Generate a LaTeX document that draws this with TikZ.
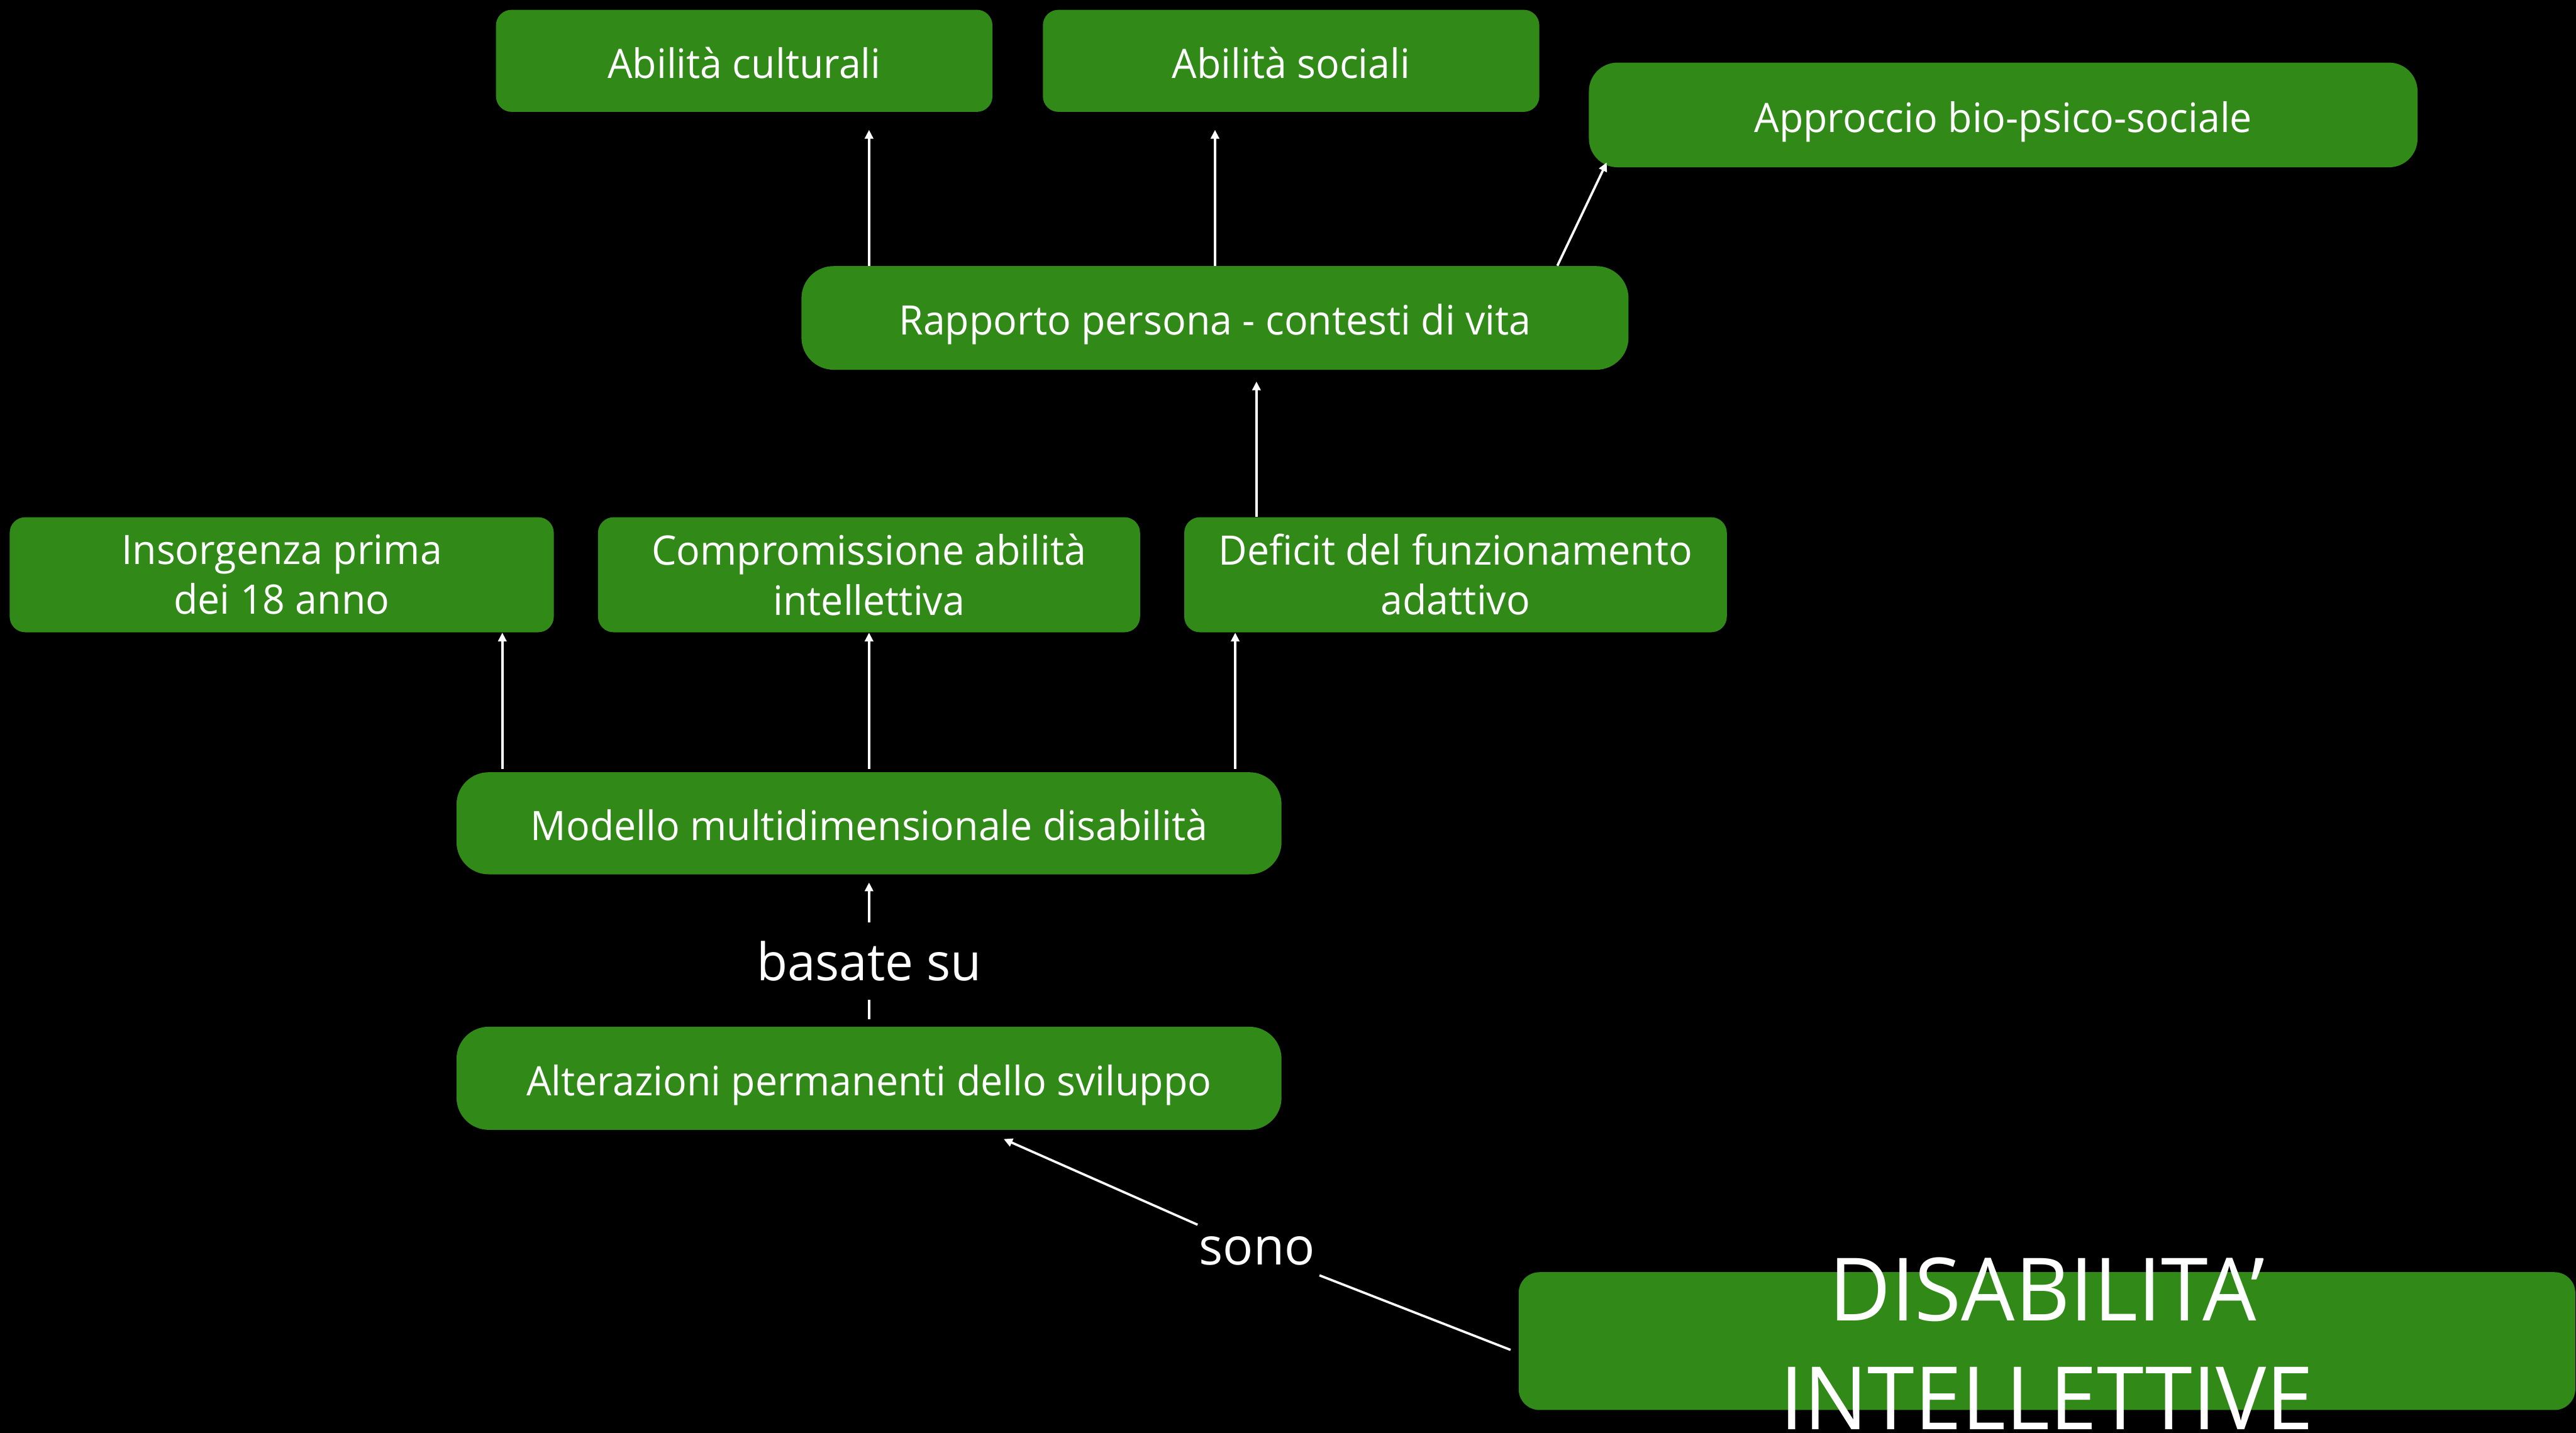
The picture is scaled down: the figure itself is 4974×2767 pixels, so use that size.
\documentclass[tikz,border=0pt]{standalone}
\usepackage{fontspec}
\setmainfont[FakeStretch=0.97]{Open Sans}
\usetikzlibrary{arrows.meta}
\definecolor{dgreen}{RGB}{49,138,24}
\tikzset{
  box/.style={fill=dgreen, text=white, inner sep=0pt, align=center,
    font=\fontsize{22.3pt}{27.3pt}\selectfont},
  oneline/.style={text height=24.5pt, text depth=5.6pt},
  smallbox/.style={box, rounded corners=0.3cm},
  widebox/.style={box, rounded corners=0.62cm},
  arr/.style={draw=white, line width=0.045cm, -{Triangle[length=0.17cm,width=0.16cm]}},
  plain/.style={draw=white, line width=0.045cm},
  lbl/.style={text=white, inner sep=0pt, font=\fontsize{28.5pt}{34pt}\selectfont}
}
\begin{document}
\begin{tikzpicture}[x=0.01cm, y=-0.01cm]
\fill[black] (0,0) rectangle (4974,2767);
\useasboundingbox (0,0) rectangle (4974,2767);

\node[smallbox, oneline, minimum width=9.58cm, minimum height=1.97cm] (cult) at (1437,117.5) {Abilità culturali};
\node[smallbox, oneline, minimum width=9.58cm, minimum height=1.97cm] (soc) at (2493,117.5) {Abilità sociali};
\node[widebox, oneline, rounded corners=0.55cm, minimum width=15.99cm, minimum height=2.02cm] (appr) at (3868,222) {Approccio bio-psico-sociale};
\node[widebox, oneline, minimum width=15.96cm, minimum height=2.00cm] (rap) at (2346,614) {Rapporto persona - contesti di vita};
\node[smallbox, minimum width=10.50cm, minimum height=2.22cm] (ins) at (544,1110) {Insorgenza prima\\dei 18 anno};
\node[smallbox, minimum width=10.46cm, minimum height=2.22cm] (comp) at (1678,1110) {Compromissione abilità\\intellettiva};
\node[smallbox, minimum width=10.47cm, minimum height=2.22cm] (def) at (2810.5,1110) {Deficit del funzionamento\\adattivo};
\node[widebox, oneline, minimum width=15.92cm, minimum height=1.97cm] (mod) at (1678,1590) {Modello multidimensionale disabilità};
\node[widebox, oneline, minimum width=15.92cm, minimum height=1.99cm] (alt) at (1678,2082.5) {Alterazioni permanenti dello sviluppo};
\node[box, rounded corners=0.4cm, minimum width=20.39cm, minimum height=2.66cm] (dis) at (3952.5,2590) {};
\node[text=white, inner sep=0pt, align=center, font=\fontsize{48pt}{59.75pt}\selectfont] (distext) at (3952.5,2595) {DISABILITA’\\INTELLETTIVE};

% arrows from Rapporto
\draw[arr, shorten >=0.34cm] (rap.north -| comp.north) -- (cult.south -| comp.north);
\draw[arr, shorten >=0.34cm] (rap.north) -- (soc.south -| rap.north);
\draw[arr] ([xshift=-1.38cm]rap.north east) -- ([shift={(35,-10)}]appr.south west);

% Deficit to Rapporto
\coordinate (d4) at ([xshift=1.40cm]def.north west);
\draw[arr, shorten >=0.22cm] (d4) -- (d4 |- rap.south);

% Modello to row 3
\coordinate (m1) at ([xshift=-1.00cm]ins.south east);
\draw[arr, shorten <=0.05cm] (m1 |- mod.north) -- (m1);
\draw[arr, shorten <=0.05cm] (mod.north) -- (comp.south);
\coordinate (m3) at ([xshift=0.99cm]def.south west);
\draw[arr, shorten <=0.05cm] (m3 |- mod.north) -- (m3);

% Alterazioni to Modello
\node[lbl, minimum height=1.48cm] (bas) at (1678,1856) {basate su};
\draw[plain, shorten <=0.14cm] (alt.north) -- (bas.south);
\draw[arr, shorten >=0.15cm] (bas.north) -- (mod.south);

% Disabilita to Alterazioni
\node[lbl, minimum height=1.0cm, minimum width=2.4cm] (sono) at (2427,2416) {sono};
\draw[plain] ([shift={(-15,17)}]dis.west) -- (sono);
\draw[arr] (sono) -- ([shift={(260,17)}]alt.south);
\end{tikzpicture}
\end{document}
